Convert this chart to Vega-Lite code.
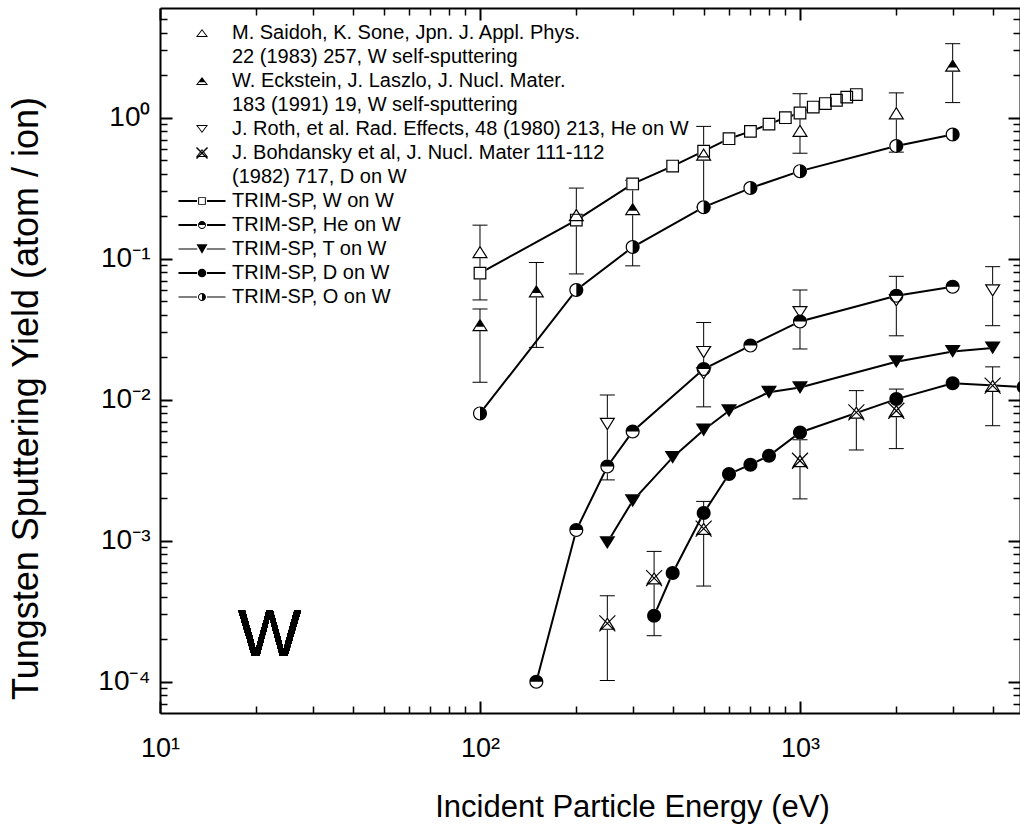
{
  "$schema": "https://vega.github.io/schema/vega-lite/v6.json",
  "width": 860,
  "height": 705,
  "autosize": {"type": "none"},
  "padding": {"left": 160, "top": 8, "right": 0, "bottom": 120},
  "background": "white",
  "config": {"view": {"stroke": null}, "axis": {"grid": false, "tickColor": "black", "domainColor": "black", "title": null}, "style": {"guide-label": {"lineHeight": 24}}},
  "datasets": {
    "pts": [
      {"s": "M. Saidoh, K. Sone, Jpn. J. Appl. Phys.|22 (1983) 257, W self-sputtering", "E": 100, "Y": 0.112, "lo": 0.051, "hi": 0.173},
      {"s": "M. Saidoh, K. Sone, Jpn. J. Appl. Phys.|22 (1983) 257, W self-sputtering", "E": 200, "Y": 0.205, "lo": 0.078, "hi": 0.317},
      {"s": "M. Saidoh, K. Sone, Jpn. J. Appl. Phys.|22 (1983) 257, W self-sputtering", "E": 500, "Y": 0.55, "lo": 0.232, "hi": 0.868},
      {"s": "M. Saidoh, K. Sone, Jpn. J. Appl. Phys.|22 (1983) 257, W self-sputtering", "E": 1000, "Y": 0.81, "lo": 0.56, "hi": 1.48},
      {"s": "M. Saidoh, K. Sone, Jpn. J. Appl. Phys.|22 (1983) 257, W self-sputtering", "E": 2000, "Y": 1.08, "lo": 0.57, "hi": 1.5},
      {"s": "W. Eckstein, J. Laszlo, J. Nucl. Mater.|183 (1991) 19, W self-sputtering", "E": 100, "Y": 0.034, "lo": 0.0133, "hi": 0.044},
      {"s": "W. Eckstein, J. Laszlo, J. Nucl. Mater.|183 (1991) 19, W self-sputtering", "E": 150, "Y": 0.059, "lo": 0.0235, "hi": 0.094},
      {"s": "W. Eckstein, J. Laszlo, J. Nucl. Mater.|183 (1991) 19, W self-sputtering", "E": 300, "Y": 0.226, "lo": 0.089, "hi": 0.36},
      {"s": "W. Eckstein, J. Laszlo, J. Nucl. Mater.|183 (1991) 19, W self-sputtering", "E": 3000, "Y": 2.35, "lo": 1.28, "hi": 3.35},
      {"s": "J. Roth, et al. Rad. Effects, 48 (1980) 213, He on W", "E": 250, "Y": 0.0067, "lo": 0.0027, "hi": 0.0108},
      {"s": "J. Roth, et al. Rad. Effects, 48 (1980) 213, He on W", "E": 500, "Y": 0.0217, "lo": 0.0089, "hi": 0.0353},
      {"s": "J. Roth, et al. Rad. Effects, 48 (1980) 213, He on W", "E": 500, "Y": 0.0153},
      {"s": "J. Roth, et al. Rad. Effects, 48 (1980) 213, He on W", "E": 1000, "Y": 0.0416, "lo": 0.0229, "hi": 0.06},
      {"s": "J. Roth, et al. Rad. Effects, 48 (1980) 213, He on W", "E": 2000, "Y": 0.0504, "lo": 0.0284, "hi": 0.075},
      {"s": "J. Roth, et al. Rad. Effects, 48 (1980) 213, He on W", "E": 4000, "Y": 0.0593, "lo": 0.0335, "hi": 0.0878},
      {"s": "J. Bohdansky et al, J. Nucl. Mater 111-112|(1982) 717, D on W", "E": 250, "Y": 0.000259, "lo": 0.000102, "hi": 0.000407},
      {"s": "J. Bohdansky et al, J. Nucl. Mater 111-112|(1982) 717, D on W", "E": 350, "Y": 0.000543, "lo": 0.000212, "hi": 0.00084},
      {"s": "J. Bohdansky et al, J. Nucl. Mater 111-112|(1982) 717, D on W", "E": 500, "Y": 0.00122, "lo": 0.000477, "hi": 0.0019},
      {"s": "J. Bohdansky et al, J. Nucl. Mater 111-112|(1982) 717, D on W", "E": 1000, "Y": 0.00369, "lo": 0.00198, "hi": 0.0052},
      {"s": "J. Bohdansky et al, J. Nucl. Mater 111-112|(1982) 717, D on W", "E": 1500, "Y": 0.00813, "lo": 0.0044, "hi": 0.0116},
      {"s": "J. Bohdansky et al, J. Nucl. Mater 111-112|(1982) 717, D on W", "E": 2000, "Y": 0.00835, "lo": 0.0045, "hi": 0.0119},
      {"s": "J. Bohdansky et al, J. Nucl. Mater 111-112|(1982) 717, D on W", "E": 4000, "Y": 0.0126, "lo": 0.00654, "hi": 0.0171},
      {"s": "TRIM-SP, W on W", "E": 100, "Y": 0.079},
      {"s": "TRIM-SP, W on W", "E": 200, "Y": 0.188},
      {"s": "TRIM-SP, W on W", "E": 300, "Y": 0.339},
      {"s": "TRIM-SP, W on W", "E": 400, "Y": 0.454},
      {"s": "TRIM-SP, W on W", "E": 500, "Y": 0.58},
      {"s": "TRIM-SP, W on W", "E": 600, "Y": 0.71},
      {"s": "TRIM-SP, W on W", "E": 700, "Y": 0.8},
      {"s": "TRIM-SP, W on W", "E": 800, "Y": 0.9},
      {"s": "TRIM-SP, W on W", "E": 900, "Y": 1.0},
      {"s": "TRIM-SP, W on W", "E": 1000, "Y": 1.08},
      {"s": "TRIM-SP, W on W", "E": 1100, "Y": 1.19},
      {"s": "TRIM-SP, W on W", "E": 1200, "Y": 1.26},
      {"s": "TRIM-SP, W on W", "E": 1300, "Y": 1.33},
      {"s": "TRIM-SP, W on W", "E": 1400, "Y": 1.4},
      {"s": "TRIM-SP, W on W", "E": 1500, "Y": 1.46},
      {"s": "TRIM-SP, He on W", "E": 150, "Y": 0.0001},
      {"s": "TRIM-SP, He on W", "E": 200, "Y": 0.00119},
      {"s": "TRIM-SP, He on W", "E": 250, "Y": 0.00336},
      {"s": "TRIM-SP, He on W", "E": 300, "Y": 0.00596},
      {"s": "TRIM-SP, He on W", "E": 500, "Y": 0.0165},
      {"s": "TRIM-SP, He on W", "E": 700, "Y": 0.0242},
      {"s": "TRIM-SP, He on W", "E": 1000, "Y": 0.0359},
      {"s": "TRIM-SP, He on W", "E": 2000, "Y": 0.0547},
      {"s": "TRIM-SP, He on W", "E": 3000, "Y": 0.0633},
      {"s": "TRIM-SP, T on W", "E": 250, "Y": 0.00097},
      {"s": "TRIM-SP, T on W", "E": 300, "Y": 0.00192},
      {"s": "TRIM-SP, T on W", "E": 400, "Y": 0.0039},
      {"s": "TRIM-SP, T on W", "E": 500, "Y": 0.0061},
      {"s": "TRIM-SP, T on W", "E": 600, "Y": 0.00835},
      {"s": "TRIM-SP, T on W", "E": 800, "Y": 0.0113},
      {"s": "TRIM-SP, T on W", "E": 1000, "Y": 0.0122},
      {"s": "TRIM-SP, T on W", "E": 2000, "Y": 0.0186},
      {"s": "TRIM-SP, T on W", "E": 3000, "Y": 0.022},
      {"s": "TRIM-SP, T on W", "E": 4000, "Y": 0.0233},
      {"s": "TRIM-SP, D on W", "E": 350, "Y": 0.000294},
      {"s": "TRIM-SP, D on W", "E": 400, "Y": 0.00059},
      {"s": "TRIM-SP, D on W", "E": 500, "Y": 0.00157},
      {"s": "TRIM-SP, D on W", "E": 600, "Y": 0.00297},
      {"s": "TRIM-SP, D on W", "E": 700, "Y": 0.00346},
      {"s": "TRIM-SP, D on W", "E": 800, "Y": 0.004},
      {"s": "TRIM-SP, D on W", "E": 1000, "Y": 0.00586},
      {"s": "TRIM-SP, D on W", "E": 2000, "Y": 0.0101},
      {"s": "TRIM-SP, D on W", "E": 3000, "Y": 0.0131},
      {"s": "TRIM-SP, D on W", "E": 5000, "Y": 0.0123},
      {"s": "TRIM-SP, O on W", "E": 100, "Y": 0.008},
      {"s": "TRIM-SP, O on W", "E": 200, "Y": 0.06},
      {"s": "TRIM-SP, O on W", "E": 300, "Y": 0.121},
      {"s": "TRIM-SP, O on W", "E": 500, "Y": 0.232},
      {"s": "TRIM-SP, O on W", "E": 700, "Y": 0.317},
      {"s": "TRIM-SP, O on W", "E": 1000, "Y": 0.418},
      {"s": "TRIM-SP, O on W", "E": 2000, "Y": 0.63},
      {"s": "TRIM-SP, O on W", "E": 3000, "Y": 0.76}
    ]
  },
  "data": {"name": "pts"},
  "resolve": {
    "scale": {"shape": "independent"},
    "axis": {"x": "independent", "y": "independent"},
    "legend": {"shape": "independent"}
  },
  "layer": [
    {
      "transform": [{"filter": "indexof(datum.s, 'TRIM') == 0"}],
      "mark": {"type": "line", "color": "black"},
      "encoding": {
        "x": {"field": "E", "type": "quantitative", "scale": {"type": "log", "domain": [10, 4870], "nice": false},
          "axis": {"orient": "bottom", "values": [10, 100, 1000], "labelExpr": "datum.value < 50 ? '10¹' : datum.value < 500 ? '10²' : '10³'",
            "ticks": false, "domain": true, "domainWidth": 2,
            "labelFont": "Liberation Sans", "labelFontSize": 27, "labelColor": "black", "labelPadding": 22,
            "labelFlush": false, "labelOverlap": false,
            "title": "Incident Particle Energy (eV)", "titleFont": "Liberation Sans", "titleFontSize": 31,
            "titleFontWeight": "normal", "titleColor": "black", "titlePadding": 31, "titleX": 472}},
        "y": {"field": "Y", "type": "quantitative", "scale": {"type": "log", "domain": [0.00006, 6], "nice": false},
          "axis": {"orient": "left", "values": [0.0001, 0.001, 0.01, 0.1, 1],
            "labelExpr": "datum.value > 0.5 ? '10⁰' : datum.value > 0.05 ? '10⁻¹' : datum.value > 0.005 ? '10⁻²' : datum.value > 0.0005 ? '10⁻³' : '10⁻⁴'",
            "ticks": false, "domain": true, "domainWidth": 2,
            "labelFont": "Liberation Sans", "labelFontSize": 28, "labelColor": "black", "labelPadding": 10,
            "labelFlush": false, "labelOverlap": false,
            "title": "Tungsten Sputtering Yield (atom / ion)", "titleFont": "Liberation Sans", "titleFontSize": 36,
            "titleFontWeight": "normal", "titleColor": "black", "titlePadding": 52, "titleY": 390}},
        "detail": {"field": "s"},
        "strokeWidth": {"field": "s", "type": "nominal",
          "scale": {"domain": ["TRIM-SP, W on W", "TRIM-SP, He on W", "TRIM-SP, T on W", "TRIM-SP, D on W", "TRIM-SP, O on W"], "range": [2, 2, 1, 2, 1]},
          "legend": null}
      }
    },
    {
      "transform": [{"filter": "isValid(datum.lo)"}],
      "mark": {"type": "rule", "color": "black", "strokeWidth": 1},
      "encoding": {
        "x": {"field": "E", "type": "quantitative", "scale": {"type": "log", "domain": [10, 4870], "nice": false},
          "axis": {"orient": "bottom", "values": [10, 100, 1000], "offset": -12, "tickSize": 12, "tickWidth": 2, "labels": false, "domain": false}},
        "y": {"field": "lo", "type": "quantitative", "scale": {"type": "log", "domain": [0.00006, 6], "nice": false},
          "axis": {"orient": "left", "values": [0.0001, 0.001, 0.01, 0.1, 1], "offset": -12, "tickSize": 12, "tickWidth": 2, "labels": false, "domain": false}},
        "y2": {"field": "hi"}
      }
    },
    {
      "transform": [{"filter": "isValid(datum.lo)"}, {"fold": ["lo", "hi"], "as": ["b", "v"]}],
      "mark": {"type": "point", "shape": "M-1,0L1,0", "filled": false, "stroke": "black", "strokeWidth": 1, "size": 225, "opacity": 1},
      "encoding": {
        "x": {"field": "E", "type": "quantitative", "scale": {"type": "log", "domain": [10, 4870], "nice": false},
          "axis": {"orient": "bottom", "values": [20, 30, 40, 50, 60, 70, 80, 90, 200, 300, 400, 500, 600, 700, 800, 900, 2000, 3000, 4000],
            "offset": -7, "tickSize": 7, "tickWidth": 1.5, "labels": false, "domain": false}},
        "y": {"field": "v", "type": "quantitative", "scale": {"type": "log", "domain": [0.00006, 6], "nice": false},
          "axis": {"orient": "left", "values": [0.00007, 0.00008, 0.00009, 0.0002, 0.0003, 0.0004, 0.0005, 0.0006, 0.0007, 0.0008, 0.0009, 0.002, 0.003, 0.004, 0.005, 0.006, 0.007, 0.008, 0.009, 0.02, 0.03, 0.04, 0.05, 0.06, 0.07, 0.08, 0.09, 0.2, 0.3, 0.4, 0.5, 0.6, 0.7, 0.8, 0.9, 2, 3, 4, 5],
            "offset": -7, "tickSize": 7, "tickWidth": 1.5, "labels": false, "domain": false}}
      }
    },
    {
      "mark": {"type": "point", "filled": true, "color": "white", "strokeWidth": 0, "size": 256, "opacity": 1},
      "encoding": {
        "x": {"field": "E", "type": "quantitative", "scale": {"type": "log", "domain": [10, 4870], "nice": false},
          "axis": {"orient": "top", "values": [100], "ticks": false, "labels": false, "domain": true, "domainWidth": 2}},
        "y": {"field": "Y", "type": "quantitative", "scale": {"type": "log", "domain": [0.00006, 6], "nice": false},
          "axis": {"orient": "right", "values": [1], "ticks": false, "labels": false, "domain": true, "domainWidth": 2}},
        "shape": {"field": "s", "type": "nominal", "legend": null,
          "scale": {
            "domain": ["M. Saidoh, K. Sone, Jpn. J. Appl. Phys.|22 (1983) 257, W self-sputtering", "W. Eckstein, J. Laszlo, J. Nucl. Mater.|183 (1991) 19, W self-sputtering", "J. Roth, et al. Rad. Effects, 48 (1980) 213, He on W", "J. Bohdansky et al, J. Nucl. Mater 111-112|(1982) 717, D on W", "TRIM-SP, W on W", "TRIM-SP, He on W", "TRIM-SP, T on W", "TRIM-SP, D on W", "TRIM-SP, O on W"],
            "range": [
              "M0,-0.8L1,0.8L-1,0.8Z",
              "M0,-0.8L1,0.8L-1,0.8Z",
              "M-1,-0.8L1,-0.8L0,0.8Z",
              "M0,-0.8L1,0.8L-1,0.8Z",
              "M-0.8,-0.8H0.8V0.8H-0.8Z",
              "M-0.875,0A0.875,0.875 0 1 1 0.875,0A0.875,0.875 0 1 1 -0.875,0Z",
              "M-1,-0.8L1,-0.8L0,0.8Z",
              "M-0.875,0A0.875,0.875 0 1 1 0.875,0A0.875,0.875 0 1 1 -0.875,0Z",
              "M-0.875,0A0.875,0.875 0 1 1 0.875,0A0.875,0.875 0 1 1 -0.875,0Z"
            ]}}
      }
    },
    {
      "mark": {"type": "point", "filled": true, "color": "black", "strokeWidth": 0, "size": 256, "opacity": 1},
      "encoding": {
        "x": {"field": "E", "type": "quantitative", "scale": {"type": "log", "domain": [10, 4870], "nice": false},
          "axis": {"orient": "top", "values": [10, 100, 1000], "offset": -12, "tickSize": 12, "tickWidth": 2, "labels": false, "domain": false}},
        "y": {"field": "Y", "type": "quantitative", "scale": {"type": "log", "domain": [0.00006, 6], "nice": false},
          "axis": {"orient": "right", "values": [0.0001, 0.001, 0.01, 0.1, 1], "offset": -12, "tickSize": 12, "tickWidth": 2, "labels": false, "domain": false}},
        "shape": {"field": "s", "type": "nominal", "legend": null,
          "scale": {
            "domain": ["M. Saidoh, K. Sone, Jpn. J. Appl. Phys.|22 (1983) 257, W self-sputtering", "W. Eckstein, J. Laszlo, J. Nucl. Mater.|183 (1991) 19, W self-sputtering", "J. Roth, et al. Rad. Effects, 48 (1980) 213, He on W", "J. Bohdansky et al, J. Nucl. Mater 111-112|(1982) 717, D on W", "TRIM-SP, W on W", "TRIM-SP, He on W", "TRIM-SP, T on W", "TRIM-SP, D on W", "TRIM-SP, O on W"],
            "range": [
              "M0,-0.8L1,0.8L-1,0.8ZM0,-0.517L-0.729,0.65L0.729,0.65Z",
              "M0,-0.8L1,0.8L-1,0.8ZM-0.479,0.25L-0.729,0.65L0.729,0.65L0.479,0.25Z",
              "M-1,-0.8L1,-0.8L0,0.8ZM-0.729,-0.65L0,0.517L0.729,-0.65Z",
              "M0,-0.8L1,0.8L-1,0.8ZM0,-0.517L-0.729,0.65L0.729,0.65ZM-0.95,-1.05L1.05,0.95L0.95,1.05L-1.05,-0.95ZM1.05,-0.95L-0.95,1.05L-1.05,0.95L0.95,-1.05Z",
              "M-0.8,-0.8H0.8V0.8H-0.8ZM-0.65,-0.65V0.65H0.65V-0.65Z",
              "M-0.875,0A0.875,0.875 0 0 1 0.875,0A0.875,0.875 0 0 1 -0.875,0L-0.725,0A0.725,0.725 0 0 0 0.725,0Z",
              "M-1,-0.8L1,-0.8L0,0.8Z",
              "M-0.875,0A0.875,0.875 0 1 1 0.875,0A0.875,0.875 0 1 1 -0.875,0Z",
              "M0,-0.875A0.875,0.875 0 0 1 0,0.875A0.875,0.875 0 0 1 0,-0.875L0,-0.725A0.725,0.725 0 0 0 0,0.725Z"
            ]}}
      }
    },
    {
      "mark": {"type": "point", "filled": true, "color": "black", "strokeWidth": 0, "size": 256, "opacity": 0},
      "encoding": {
        "x": {"field": "E", "type": "quantitative", "scale": {"type": "log", "domain": [10, 4870], "nice": false},
          "axis": {"orient": "top", "values": [20, 30, 40, 50, 60, 70, 80, 90, 200, 300, 400, 500, 600, 700, 800, 900, 2000, 3000, 4000],
            "offset": -7, "tickSize": 7, "tickWidth": 1.5, "labels": false, "domain": false}},
        "y": {"field": "Y", "type": "quantitative", "scale": {"type": "log", "domain": [0.00006, 6], "nice": false},
          "axis": {"orient": "right", "values": [0.00007, 0.00008, 0.00009, 0.0002, 0.0003, 0.0004, 0.0005, 0.0006, 0.0007, 0.0008, 0.0009, 0.002, 0.003, 0.004, 0.005, 0.006, 0.007, 0.008, 0.009, 0.02, 0.03, 0.04, 0.05, 0.06, 0.07, 0.08, 0.09, 0.2, 0.3, 0.4, 0.5, 0.6, 0.7, 0.8, 0.9, 2, 3, 4, 5],
            "offset": -7, "tickSize": 7, "tickWidth": 1.5, "labels": false, "domain": false}},
        "shape": {"field": "s", "type": "nominal",
          "scale": {
            "domain": ["M. Saidoh, K. Sone, Jpn. J. Appl. Phys.|22 (1983) 257, W self-sputtering", "W. Eckstein, J. Laszlo, J. Nucl. Mater.|183 (1991) 19, W self-sputtering", "J. Roth, et al. Rad. Effects, 48 (1980) 213, He on W", "J. Bohdansky et al, J. Nucl. Mater 111-112|(1982) 717, D on W", "TRIM-SP, W on W", "TRIM-SP, He on W", "TRIM-SP, T on W", "TRIM-SP, D on W", "TRIM-SP, O on W"],
            "range": [
              "M-2.35,0L-2.35,0ZM2.35,0L2.35,0ZM0,-0.408L0.6,0.408L-0.6,0.408ZM0,-0.246L-0.41,0.312L0.41,0.312Z",
              "M-2.35,0L-2.35,0ZM2.35,0L2.35,0ZM0,-0.408L0.6,0.408L-0.6,0.408ZM-0.269,0.12L-0.41,0.312L0.41,0.312L0.269,0.12Z",
              "M-2.35,0L-2.35,0ZM2.35,0L2.35,0ZM-0.6,-0.408L0.6,-0.408L0,0.408ZM-0.41,-0.312L0,0.246L0.41,-0.312Z",
              "M-2.35,0L-2.35,0ZM2.35,0L2.35,0ZM0,-0.408L0.6,0.408L-0.6,0.408ZM0,-0.246L-0.41,0.312L0.41,0.312ZM-0.502,-0.602L0.602,0.502L0.502,0.602L-0.602,-0.502ZM0.602,-0.502L-0.502,0.602L-0.602,0.502L0.502,-0.602Z",
              "M-2.35,-0.096H-0.5V0.096H-2.35ZM0.5,-0.096H2.35V0.096H0.5ZM-0.384,-0.384H0.384V0.384H-0.384ZM-0.288,-0.288V0.288H0.288V-0.288Z",
              "M-2.35,-0.096H-0.5V0.096H-2.35ZM0.5,-0.096H2.35V0.096H0.5ZM-0.4,0A0.4,0.4 0 0 1 0.4,0A0.4,0.4 0 0 1 -0.4,0L-0.305,0A0.305,0.305 0 0 0 0.305,0Z",
              "M-2.35,-0.06H-0.48V0.06H-2.35ZM0.48,-0.06H2.35V0.06H0.48ZM-0.552,-0.48L0.552,-0.48L0,0.48Z",
              "M-2.35,-0.096H-0.5V0.096H-2.35ZM0.5,-0.096H2.35V0.096H0.5ZM-0.432,0A0.432,0.432 0 1 1 0.432,0A0.432,0.432 0 1 1 -0.432,0Z",
              "M-2.35,-0.06H-0.5V0.06H-2.35ZM0.5,-0.06H2.35V0.06H0.5ZM0,-0.4A0.4,0.4 0 0 1 0,0.4A0.4,0.4 0 0 1 0,-0.4L0,-0.305A0.305,0.305 0 0 0 0,0.305Z"
            ]},
          "legend": {
            "title": null, "orient": "none", "legendX": 18, "legendY": 15, "direction": "vertical", "columns": 1,
            "padding": 0, "offset": 0, "symbolSize": 400, "symbolOffset": 14, "symbolFillColor": "black", "symbolStrokeWidth": 0, "symbolOpacity": 1,
            "labelFont": "Liberation Sans", "labelFontSize": 20, "labelColor": "black", "labelOffset": 20, "labelLimit": 1000,
            "rowPadding": 4, "labelExpr": "split(datum.label, '|')"
          }}
      }
    },
    {
      "mark": {"type": "text", "text": "W", "font": "Liberation Sans", "fontSize": 67, "align": "center", "baseline": "alphabetic", "color": "black"},
      "encoding": {
        "x": {"datum": 22, "type": "quantitative", "scale": {"type": "log", "domain": [10, 4870], "nice": false}, "axis": null},
        "y": {"datum": 0.000153, "type": "quantitative", "scale": {"type": "log", "domain": [0.00006, 6], "nice": false}, "axis": null}
      }
    }
  ]
}
